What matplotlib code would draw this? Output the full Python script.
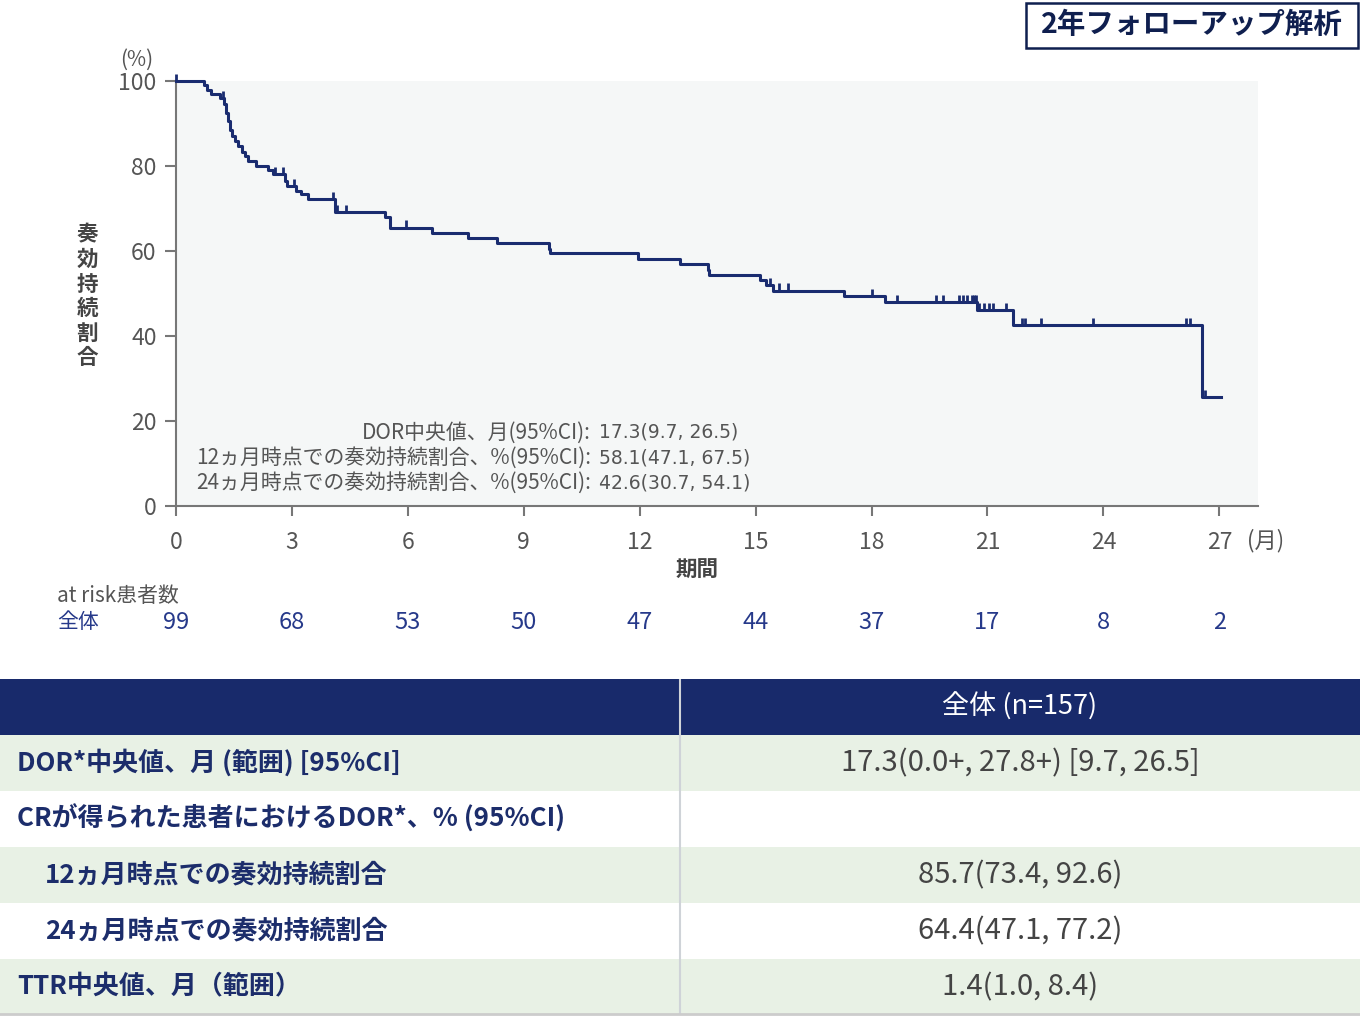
import numpy as np
import matplotlib
matplotlib.use('Agg')
import matplotlib.pyplot as plt
from matplotlib.patches import Rectangle

plt.rcParams['font.family'] = ['Noto Sans CJK JP', 'DejaVu Sans']

# KM curve: event times (months) and survival after each step (%)
step_t = [0.72, 0.80, 0.90, 1.14, 1.24, 1.30, 1.35, 1.40, 1.44, 1.53, 1.61, 1.70,
          1.78, 1.87, 2.07, 2.37, 2.50, 2.82, 2.88, 3.10, 3.23, 3.42, 4.12, 5.41,
          5.54, 6.63, 7.55, 8.31, 9.64, 9.68, 11.96, 13.04, 13.76, 13.80, 15.11,
          15.27, 15.45, 17.28, 18.36, 20.73, 21.67, 26.54]
step_s = [99.0, 97.9, 96.9, 96.0, 94.6, 92.5, 90.5, 88.5, 87.0, 85.8, 84.6, 83.4,
          82.3, 81.1, 80.1, 79.1, 78.1, 76.4, 75.3, 74.2, 73.4, 72.2, 69.1, 67.9,
          65.5, 64.2, 63.0, 61.8, 60.5, 59.5, 58.1, 57.0, 55.6, 54.3, 53.1,
          51.9, 50.7, 49.3, 48.0, 46.1, 42.6, 25.6]
end_t = 27.04
censor_t = [0.0, 1.22, 2.55, 2.78, 3.05, 4.07, 4.16, 4.40, 5.94, 15.37, 15.61, 15.84,
            18.01, 18.66, 19.66, 19.85, 20.27, 20.37, 20.47, 20.60, 20.65, 20.70,
            20.77, 20.90, 21.03, 21.13, 21.47, 21.90, 21.97, 22.38, 23.73, 26.13,
            26.24, 26.62]

xticks = [0, 3, 6, 9, 12, 15, 18, 21, 24, 27]
yticks = [0, 20, 40, 60, 80, 100]
at_risk = [99, 68, 53, 50, 47, 44, 37, 17, 8, 2]

stat_labels = ['DOR中央値、月(95%CI):',
               '12ヵ月時点での奏効持続割合、%(95%CI):',
               '24ヵ月時点での奏効持続割合、%(95%CI):']
stat_values = ['17.3(9.7, 26.5)', '58.1(47.1, 67.5)', '42.6(30.7, 54.1)']

tbl_header = '全体 (n=157)'
tbl_left = ['DOR*中央値、月 (範囲) [95%CI]',
            'CRが得られた患者におけるDOR*、% (95%CI)',
            '12ヵ月時点での奏効持続割合',
            '24ヵ月時点での奏効持続割合',
            'TTR中央値、月（範囲）']
tbl_right = ['17.3(0.0+, 27.8+) [9.7, 26.5]', '', '85.7(73.4, 92.6)',
             '64.4(47.1, 77.2)', '1.4(1.0, 8.4)']
tbl_indent = [False, False, True, True, False]

navy = '#1a2c70'
gray = '#555555'
risk_blue = '#26398a'

W, H = 1360, 1016
fig = plt.figure(figsize=(W / 100, H / 100), dpi=100)

# ---- KM plot
ax = fig.add_axes([176 / W, 510 / H, 1082 / W, 425 / H])
ax.set_facecolor('#f5f7f7')
ax.set_xlim(0, 28)
ax.set_ylim(0, 100)

xs = [0] + step_t + [end_t]
ys = [100] + step_s + [step_s[-1]]
ax.step(xs, ys, where='post', color=navy, lw=2.2, clip_on=False, zorder=3)

ct = np.array(censor_t)
idx = np.searchsorted(step_t, ct, side='right')
cs = np.where(idx == 0, 100, np.array(step_s)[np.maximum(idx - 1, 0)])
ax.vlines(ct, cs, cs + 1.7, color=navy, lw=2.0, clip_on=False, zorder=3)

for sp in ['top', 'right']:
    ax.spines[sp].set_visible(False)
for sp in ['left', 'bottom']:
    ax.spines[sp].set_color('#777777')
    ax.spines[sp].set_linewidth(1.5)
ax.set_xticks(xticks)
ax.set_yticks(yticks)
ax.tick_params(axis='y', direction='out', length=8, width=1.5, color='#777777',
               labelsize=16.5, labelcolor=gray, pad=6)
ax.tick_params(axis='x', direction='out', length=7, width=1.5, color='#777777',
               labelsize=16.5, labelcolor=gray, pad=11)

# stats block, aligned on colon
for i, (lab, val) in enumerate(zip(stat_labels, stat_values)):
    yy = 17.3 - i * 5.9
    ax.text(10.74, yy, lab, ha='right', va='center', fontsize=15, color=gray)
    ax.text(10.80, yy, ' ' + val, ha='left', va='center', fontsize=13.5, color=gray,
            family='DejaVu Sans')

fig.text(137 / W, 1 - 60 / H, '(%)', ha='center', va='center', fontsize=15, color=gray)
fig.text(1266 / W, 1 - 541 / H, '(月)', ha='center', va='center', fontsize=16, color=gray)
fig.text(697 / W, 1 - 569 / H, '期間', ha='center', va='center', fontsize=15.5,
         fontweight='bold', color='#444444')
for i, ch in enumerate('奏効持続割合'):
    fig.text(87 / W, 1 - (235 + i * 24.5) / H, ch, ha='center', va='center',
             fontsize=15.5, fontweight='bold', color='#444444')

# title box
fig.patches.append(Rectangle((1026 / W, 1 - 48 / H), 332 / W, 45 / H,
                             transform=fig.transFigure, fc='white', ec='#0f1f4f',
                             lw=1.8))
fig.text(1192 / W, 1 - 25 / H, '2年フォローアップ解析', ha='center', va='center',
         fontsize=20.5, fontweight='bold', color='#0f1f4f')

# number at risk
fig.text(57 / W, 1 - 596 / H, 'at risk患者数', ha='left', va='center', fontsize=15, color=gray)
fig.text(57 / W, 1 - 622 / H, '全体', ha='left', va='center', fontsize=15, color=risk_blue)
for t, n in zip(xticks, at_risk):
    ax.text(t, -27.3, str(n), ha='center', va='center', fontsize=17, color=risk_blue,
            clip_on=False)

# ---- table
tb = fig.add_axes([0, 0, 1, (H - 679) / H])
tb.set_xlim(0, W)
tb.set_ylim(H, 679)
tb.axis('off')
tb.add_patch(Rectangle((0, 679), W, 56, fc='#182a6b', ec='none'))
tb.text(1020, 707, tbl_header, ha='center', va='center', fontsize=19.5, color='white')
row_h = 56
for i, (l, r) in enumerate(zip(tbl_left, tbl_right)):
    y0 = 735 + i * row_h
    tb.add_patch(Rectangle((0, y0), W, row_h, fc='#e8f1e5' if i % 2 == 0 else 'white',
                           ec='none'))
    tb.text(45 if tbl_indent[i] else 17, y0 + row_h / 2, l, ha='left', va='center',
            fontsize=18.7, fontweight='bold', color='#1c2d6b')
    tb.text(1020, y0 + row_h / 2, r, ha='center', va='center', fontsize=21,
            color='#444444')
tb.plot([680, 680], [679, 1014], color='#cfd3d8', lw=1.5)
tb.plot([0, W], [1014, 1014], color='#cccccc', lw=2)

fig.savefig('out.png', dpi=100)
